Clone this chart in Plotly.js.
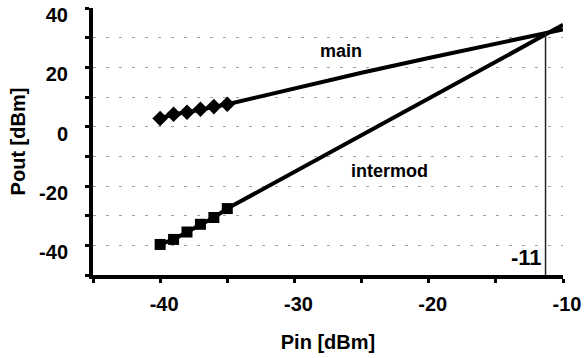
<!DOCTYPE html>
<html>
<head>
<meta charset="utf-8">
<script src="https://cdn.plot.ly/plotly-3.0.1.min.js"></script>
<style>html,body{margin:0;padding:0;background:#fff;}#chart{width:585px;height:358px;}</style>
</head>
<body>
<div id="chart"></div>
<script>
// Measured points (markers)
const pinMarkers = [-40, -39, -38, -37, -36, -35];
const mainMarkers = [2.8, 4.2, 4.9, 5.9, 6.8, 7.6];
const intermodMarkers = [-39.7, -38.0, -35.5, -32.9, -30.6, -27.6];

// Extrapolated lines
const pinLine = [-35, -30, -25, -20, -15, -10];
const mainLine = [7.6, 13.0, 18.2, 23.2, 28.0, 32.8];
const intermodLine = [-27.6, -15.3, -2.9, 9.5, 21.9, 34.4];

// Intercept marker line
const interceptX = [-11.3, -11.3];
const interceptY = [-50, 31.5];
const interceptLabel = "-11";

// Series labels
const seriesNames = ["main", "intermod"];
const labelX = [-26.5, -22.9];
const labelY = [25.4, -14.8];

// Axes
const xTickVals = [-45, -40, -35, -30, -25, -20, -15, -10];
const xTickText = ["", "-40", "", "-30", "", "-20", "", "-10"];
const yTickVals = [-50, -40, -30, -20, -10, 0, 10, 20, 30, 40];
const yTickText = ["", "-40", "", "-20", "", "0", "", "20", "", "40"];
const xTitle = "Pin [dBm]";
const yTitle = "Pout [dBm]";

const FONT = "Liberation Sans, Arial, sans-serif";
const b = s => s ? "<b>" + s + "</b>" : "";

const traces = [
  {x: pinLine, y: mainLine, mode: "lines", line: {color: "#000", width: 4}, hoverinfo: "skip"},
  {x: pinLine, y: intermodLine, mode: "lines", line: {color: "#000", width: 4}, hoverinfo: "skip"},
  {x: pinMarkers, y: mainMarkers, mode: "lines+markers", line: {color: "#000", width: 4},
   marker: {symbol: "diamond", size: 12, color: "#000"}},
  {x: pinMarkers, y: intermodMarkers, mode: "lines+markers", line: {color: "#000", width: 4},
   marker: {symbol: "square", size: 11, color: "#000"}},
  {x: interceptX, y: interceptY, mode: "lines", line: {color: "#222", width: 1.5}}
];

const annotations = seriesNames.map((t, i) => ({
  x: labelX[i], y: labelY[i], text: b(t), showarrow: false,
  font: {family: FONT, size: 18, color: "#000"}
}));
annotations.push({
  x: interceptX[0], y: interceptY[0], text: b(interceptLabel), showarrow: false,
  xanchor: "right", yanchor: "bottom", xshift: -2, yshift: 3,
  font: {family: FONT, size: 22, color: "#000"}
});

const layout = {
  width: 585, height: 358,
  margin: {l: 93, r: 22, t: 8, b: 83},
  paper_bgcolor: "#fff", plot_bgcolor: "#fff",
  showlegend: false,
  font: {family: FONT, color: "#000"},
  xaxis: {
    range: [-45, -10], tickvals: xTickVals, ticktext: xTickText.map(b),
    showgrid: false, zeroline: false,
    showline: true, linecolor: "#000", linewidth: 4,
    ticks: "outside", ticklen: 4, tickwidth: 3, tickcolor: "#000",
    tickfont: {family: FONT, size: 20, color: "#000"},
    ticklabelstandoff: 4, ticklabelshift: 4, ticklabeloverflow: "allow",
    title: {text: b(xTitle), font: {family: FONT, size: 20, color: "#000"}, standoff: 22},
    automargin: false
  },
  yaxis: {
    range: [-50, 40.05], tickvals: yTickVals, ticktext: yTickText.map(b),
    showgrid: true, gridcolor: "#a0a0a0", gridwidth: 1, griddash: "3px,10px",
    zeroline: false,
    showline: true, linecolor: "#000", linewidth: 4,
    ticks: "outside", ticklen: 4, tickwidth: 3, tickcolor: "#000",
    tickfont: {family: FONT, size: 20, color: "#000"},
    ticklabelstandoff: 13, ticklabelshift: 7, ticklabeloverflow: "allow",
    title: {text: b(yTitle), font: {family: FONT, size: 20, color: "#000"}, standoff: 9},
    automargin: false
  },
  annotations: annotations
};

Plotly.newPlot("chart", traces, layout, {staticPlot: true, displayModeBar: false});
</script>
</body>
</html>
